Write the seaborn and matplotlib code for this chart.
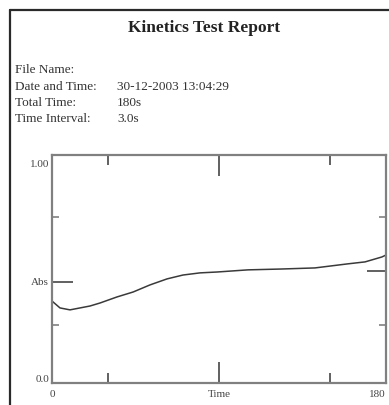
import matplotlib
matplotlib.use("Agg")
import matplotlib.pyplot as plt
from matplotlib.lines import Line2D
import seaborn as sns
import pandas as pd

# ---- data ----
time_s = [0, 4.3, 9.7, 20.5, 25.9, 35.0, 43.7, 52.8, 62.0, 70.6, 79.8, 88.9,
          105.6, 123.9, 141.7, 159.5, 168.7, 177.8, 180]
absorbance = [0.361, 0.329, 0.320, 0.338, 0.352, 0.380, 0.403, 0.436, 0.464, 0.482,
              0.492, 0.496, 0.506, 0.510, 0.515, 0.534, 0.543, 0.566, 0.575]
info_labels = ["File Name:", "Date and Time:", "Total Time:", "Time Interval:"]
info_values = ["", "30-12-2003 13:04:29", "180s", "3.0s"]
x_tick_pos = [0, 90, 180]
x_tick_labels = ["0", "Time", "180"]
y_tick_pos = [0, 0.45, 1.0]
y_tick_labels = ["0.0", "Abs", "1.00"]

sns.set_theme(style="white")
plt.rcParams['font.family'] = ['Liberation Serif', 'DejaVu Serif']

W, H = 389, 405
fig = plt.figure(figsize=(W / 100, H / 100), dpi=100)
fig.patch.set_facecolor("white")

def fx(px):
    return px / W

def fy(py):
    return 1 - py / H

# page border (left and top)
fig.add_artist(Line2D([fx(10), fx(10)], [fy(10), 0], color="#2a2a2a", lw=1.6,
                      transform=fig.transFigure))
fig.add_artist(Line2D([fx(10), 1], [fy(10), fy(10)], color="#2a2a2a", lw=1.6,
                      transform=fig.transFigure))

fig.text(fx(204), fy(28), "Kinetics Test Report", ha="center", va="center",
         fontsize=12.5, fontweight="bold", color="#222222")
rows_y = [70, 87, 103, 119]
for lab, val, yy in zip(info_labels, info_values, rows_y):
    fig.text(fx(15), fy(yy), lab, ha="left", va="center", fontsize=9.5, color="#333333")
    fig.text(fx(117), fy(yy), val, ha="left", va="center", fontsize=9.5, color="#333333")

ax = fig.add_axes([fx(52), fy(383), fx(386) - fx(52), fy(155) - fy(383)])
df = pd.DataFrame({"Time": time_s, "Abs": absorbance})
sns.lineplot(data=df, x="Time", y="Abs", ax=ax, color="#3a3a3a", linewidth=1.1)

ax.set_xlim(0, 180)
ax.set_ylim(-0.02, 1.04)
ax.set_xlabel("")
ax.set_ylabel("")
for s in ax.spines.values():
    s.set_color("#808080")
    s.set_linewidth(1.6)
    s.set_visible(True)

ax.set_xticks(x_tick_pos)
ax.set_xticklabels(x_tick_labels, fontsize=8, color="#444444")
ax.set_xticks([30, 150], minor=True)
ax.get_xticklabels()[0].set_ha("center")
ax.get_xticklabels()[-1].set_ha("right")
ax.set_yticks(y_tick_pos)
ax.set_yticklabels(y_tick_labels, fontsize=8, color="#444444")
ax.set_yticks([0.25, 0.75], minor=True)

ax.tick_params(axis="x", which="major", direction="in", length=15, width=1.4,
               color="#606060", top=True, bottom=True, pad=5)
ax.tick_params(axis="x", which="minor", direction="in", length=7, width=1.4,
               color="#606060", top=True, bottom=True)
ax.tick_params(axis="y", which="major", direction="in", length=15, width=1.4,
               color="#606060", left=True, right=False, pad=2)
ax.tick_params(axis="y", which="minor", direction="in", length=5, width=1.2,
               color="#808080", left=True, right=False)
# hide the tick marks that would sit at the very ends of the y axis
yt = ax.yaxis.get_major_ticks()
for i in (0, 2):
    yt[i].tick1line.set_visible(False)
xt = ax.xaxis.get_major_ticks()
for i in (0, 2):
    xt[i].tick1line.set_visible(False)
    xt[i].tick2line.set_visible(False)

sec = ax.secondary_yaxis("right")
sec.set_yticks([0.5])
sec.set_yticklabels([""])
sec.set_yticks([0.25, 0.75], minor=True)
sec.tick_params(which="major", direction="in", length=14, width=1.4, color="#606060")
sec.tick_params(which="minor", direction="in", length=5, width=1.2, color="#808080")
sec.yaxis.set_minor_formatter(matplotlib.ticker.NullFormatter())
sec.spines["right"].set_visible(False)

fig.savefig("out.png", dpi=100, facecolor="white")
